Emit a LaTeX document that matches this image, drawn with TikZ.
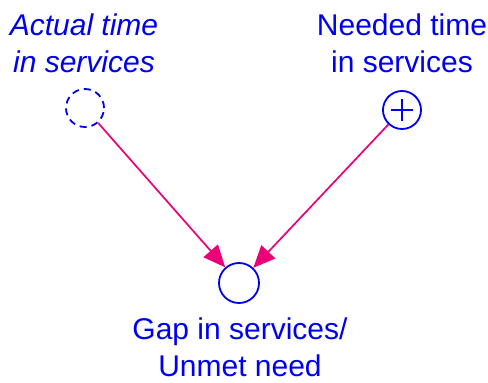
\documentclass[tikz,border=0pt]{standalone}
\usepackage{fontspec}
\setmainfont{Liberation Sans}
\usetikzlibrary{arrows.meta}
\definecolor{varblue}{RGB}{0,0,240}
\definecolor{linkpink}{RGB}{235,0,120}
\begin{document}
\begin{tikzpicture}[x=1pt,y=-1pt,
  varcircle/.style={circle,draw=varblue,line width=1.8pt,minimum size=38pt,inner sep=0pt},
  label/.style={text=varblue,font=\fontsize{30}{37}\selectfont,align=center,inner sep=0pt},
  link/.style={draw=linkpink,line width=1.7pt,-{Triangle[length=22pt,width=19pt]}}]
\useasboundingbox (0,0) rectangle (488,383);
% variables
\node[varcircle,dash pattern=on 7pt off 5pt] (actual) at (85,108) {};
\node[varcircle] (needed) at (402,110) {};
\draw[varblue,line width=1.8pt] ([xshift=-11pt]needed.center) -- ([xshift=11pt]needed.center)
  ([yshift=-11pt]needed.center) -- ([yshift=11pt]needed.center);
\node[varcircle,minimum size=40pt] (gap) at (239,283) {};
% labels
\node[label,font=\fontsize{30}{37}\selectfont\itshape] (actualtxt) at (84,43) {Actual time\\in services};
\node[label] (neededtxt) at (402,43) {Needed time\\in services};
\node[label] (gaptxt) at (240,347) {Gap in services/\\Unmet need};
% links
\draw[link] (actual) -- (gap);
\draw[link] (needed) -- (gap);
\end{tikzpicture}
\end{document}
